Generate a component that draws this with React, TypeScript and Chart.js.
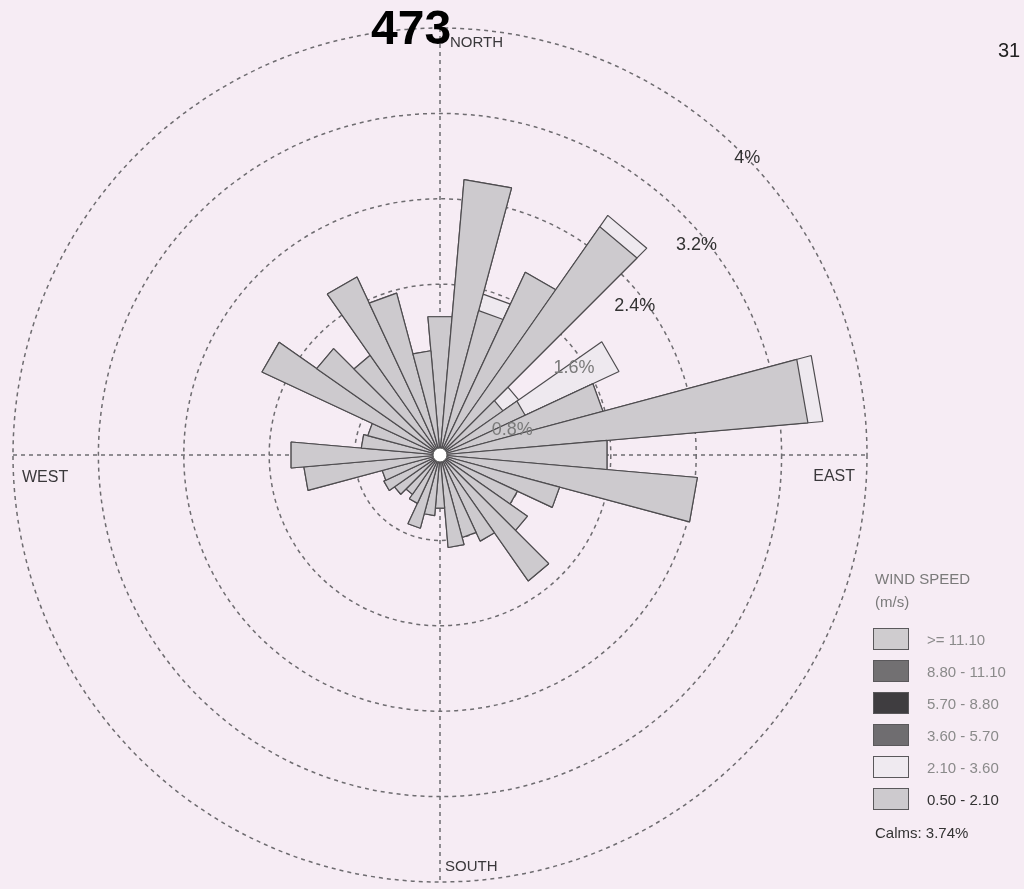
import React, { useEffect, useRef } from "react";
import { Chart, registerables } from "chart.js";

Chart.register(...registerables);

// Direction bins (degrees clockwise from north)
const DIRECTIONS = [
  "0", "10", "20", "30", "40", "50", "60", "70", "80",
  "90", "100", "110", "120", "130", "140", "150", "160", "170",
  "180", "190", "200", "210", "220", "230", "240", "250", "260",
  "270", "280", "290", "300", "310", "320", "330", "340", "350",
];

// Frequency (%) of wind speed class 0.50 - 2.10 m/s per direction
const SPEED_050_210 = [
  1.30, 2.59, 1.40, 1.89, 2.61, 0.72, 0.88, 1.58, 3.46,
  1.57, 2.42, 1.16, 0.80, 1.00, 1.44, 0.89, 0.80, 0.87,
  0.50, 0.57, 0.71, 0.50, 0.45, 0.52, 0.58, 0.56, 1.28,
  1.40, 0.74, 0.70, 1.84, 1.41, 1.14, 1.84, 1.57, 0.98,
];

// Frequency (%) of wind speed class 2.10 - 3.60 m/s per direction
const SPEED_210_360 = [
  0, 0, 0.16, 0, 0.13, 0.18, 0.97, 0, 0.14,
  0, 0, 0, 0, 0, 0, 0, 0, 0,
  0, 0, 0, 0, 0, 0, 0, 0, 0,
  0, 0, 0, 0, 0, 0, 0, 0, 0,
];

const RING_VALUES = [0.8, 1.6, 2.4, 3.2, 4.0];
const RING_LABELS = ["0.8%", "1.6%", "2.4%", "3.2%", "4%"];
const RING_LABEL_BEARINGS = [71, 57, 52.6, 50.7, 46];
const RING_LABEL_INSETS = [9, 11, 11, 10, 0];
const RING_LABEL_COLORS = ["#7a7a7a", "#7a7a7a", "#333333", "#333333", "#333333"];

const LEGEND_CLASSES = [">= 11.10", "8.80 - 11.10", "5.70 - 8.80", "3.60 - 5.70", "2.10 - 3.60", "0.50 - 2.10"];
const LEGEND_COLORS = ["#cfcccf", "#727072", "#3f3d40", "#6f6d70", "#efeaf0", "#cdcace"];
const LEGEND_TEXT_COLORS = ["#8a8a8a", "#8a8a8a", "#8a8a8a", "#8a8a8a", "#8a8a8a", "#333333"];
const CALMS = "Calms: 3.74%";

const FONT = '"Liberation Sans", Arial, sans-serif';
const BG = "#f6ecf4";
const FILL_1 = "#cdcace";
const FILL_2 = "#eee9ef";
const EDGE = "#4e4c4f";

const rosePlugin = {
  id: "roseDecor",
  beforeDatasetsDraw(chart: any) {
    const s = chart.scales.r;
    const cx = s.xCenter;
    const cy = s.yCenter;
    const ctx = chart.ctx;
    ctx.save();
    ctx.strokeStyle = "#6e6c70";
    ctx.lineWidth = 1.5;
    ctx.setLineDash([4, 4]);
    RING_VALUES.forEach((v) => {
      const r = s.getDistanceFromCenterForValue(v);
      ctx.beginPath();
      ctx.arc(cx, cy, r, 0, Math.PI * 2);
      ctx.stroke();
    });
    const R = s.getDistanceFromCenterForValue(RING_VALUES[RING_VALUES.length - 1]);
    ctx.beginPath();
    ctx.moveTo(cx - R, cy);
    ctx.lineTo(cx + R, cy);
    ctx.moveTo(cx, cy - R);
    ctx.lineTo(cx, cy + R);
    ctx.stroke();
    ctx.restore();
  },
  afterDatasetsDraw(chart: any) {
    const s = chart.scales.r;
    const cx = s.xCenter;
    const cy = s.yCenter;
    const ctx = chart.ctx;
    const R = s.getDistanceFromCenterForValue(RING_VALUES[RING_VALUES.length - 1]);
    ctx.save();
    // calm circle
    ctx.beginPath();
    ctx.arc(cx, cy, 7, 0, Math.PI * 2);
    ctx.fillStyle = "#ffffff";
    ctx.fill();
    ctx.lineWidth = 1;
    ctx.strokeStyle = "#555";
    ctx.stroke();

    // ring labels
    ctx.font = `18px ${FONT}`;
    ctx.textAlign = "center";
    ctx.textBaseline = "middle";
    RING_VALUES.forEach((v, i) => {
      const r = s.getDistanceFromCenterForValue(v) - RING_LABEL_INSETS[i];
      const b = (RING_LABEL_BEARINGS[i] * Math.PI) / 180;
      ctx.fillStyle = RING_LABEL_COLORS[i];
      ctx.fillText(RING_LABELS[i], cx + r * Math.sin(b), cy - r * Math.cos(b));
    });

    // compass labels
    ctx.fillStyle = "#3a383b";
    ctx.font = `15px ${FONT}`;
    ctx.textBaseline = "alphabetic";
    ctx.textAlign = "left";
    ctx.fillText("NORTH", cx + 10, cy - R + 19);
    ctx.fillText("SOUTH", cx + 5, cy + R - 11);
    ctx.font = `16px ${FONT}`;
    ctx.fillText("WEST", cx - R + 9, cy + 27);
    ctx.textAlign = "right";
    ctx.fillText("EAST", cx + R - 12, cy + 26);
    ctx.restore();
  },
};

export default function App() {
  const ref = useRef<HTMLCanvasElement | null>(null);

  useEffect(() => {
    if (!ref.current) return;
    const totals = SPEED_050_210.map((v, i) => v + SPEED_210_360[i]);
    const chart = new Chart(ref.current, {
      type: "polarArea",
      data: {
        labels: DIRECTIONS,
        datasets: [
          {
            label: "0.50 - 2.10",
            data: SPEED_050_210,
            backgroundColor: FILL_1,
            borderColor: EDGE,
            borderWidth: 1.2,
            circular: false,
          } as any,
          {
            label: "2.10 - 3.60",
            data: totals,
            backgroundColor: FILL_2,
            borderColor: EDGE,
            borderWidth: 1.2,
            circular: false,
          } as any,
        ],
      },
      options: {
        responsive: false,
        animation: false,
        layout: { padding: { left: 13, top: 28, right: 157, bottom: 7 } },
        plugins: {
          legend: { display: false },
          tooltip: { enabled: false },
        },
        scales: {
          r: {
            min: 0,
            max: 4,
            startAngle: -5,
            ticks: { display: false },
            grid: { display: false },
            angleLines: { display: false },
            pointLabels: { display: false },
          },
        },
      } as any,
      plugins: [rosePlugin],
    });
    return () => chart.destroy();
  }, []);

  return (
    <div
      style={{
        position: "absolute",
        left: 0,
        top: 0,
        width: 1024,
        height: 889,
        background: BG,
        overflow: "hidden",
        fontFamily: FONT,
      }}
    >
      <canvas ref={ref} width={1024} height={889} style={{ position: "absolute", left: 0, top: 0 }} />
      <div style={{ position: "absolute", left: 371, top: 4, fontSize: 48, fontWeight: "bold", lineHeight: 1, color: "#000" }}>
        473
      </div>
      <div style={{ position: "absolute", left: 998, top: 40, fontSize: 20, lineHeight: 1, color: "#222" }}>31</div>
      <div style={{ position: "absolute", left: 875, top: 571, fontSize: 15, lineHeight: 1, color: "#7a7a7a" }}>
        WIND SPEED
      </div>
      <div style={{ position: "absolute", left: 875, top: 594, fontSize: 15, lineHeight: 1, color: "#7a7a7a" }}>
        (m/s)
      </div>
      {LEGEND_CLASSES.map((label, i) => (
        <React.Fragment key={label}>
          <div
            style={{
              position: "absolute",
              left: 873,
              top: 628 + i * 32,
              width: 34,
              height: 20,
              background: LEGEND_COLORS[i],
              border: "1.5px solid #5a585b",
            }}
          />
          <div
            style={{
              position: "absolute",
              left: 927,
              top: 632 + i * 32,
              fontSize: 15,
              lineHeight: 1,
              color: LEGEND_TEXT_COLORS[i],
              whiteSpace: "nowrap",
            }}
          >
            {label}
          </div>
        </React.Fragment>
      ))}
      <div style={{ position: "absolute", left: 875, top: 825, fontSize: 15, lineHeight: 1, color: "#333", whiteSpace: "nowrap" }}>
        {CALMS}
      </div>
    </div>
  );
}
